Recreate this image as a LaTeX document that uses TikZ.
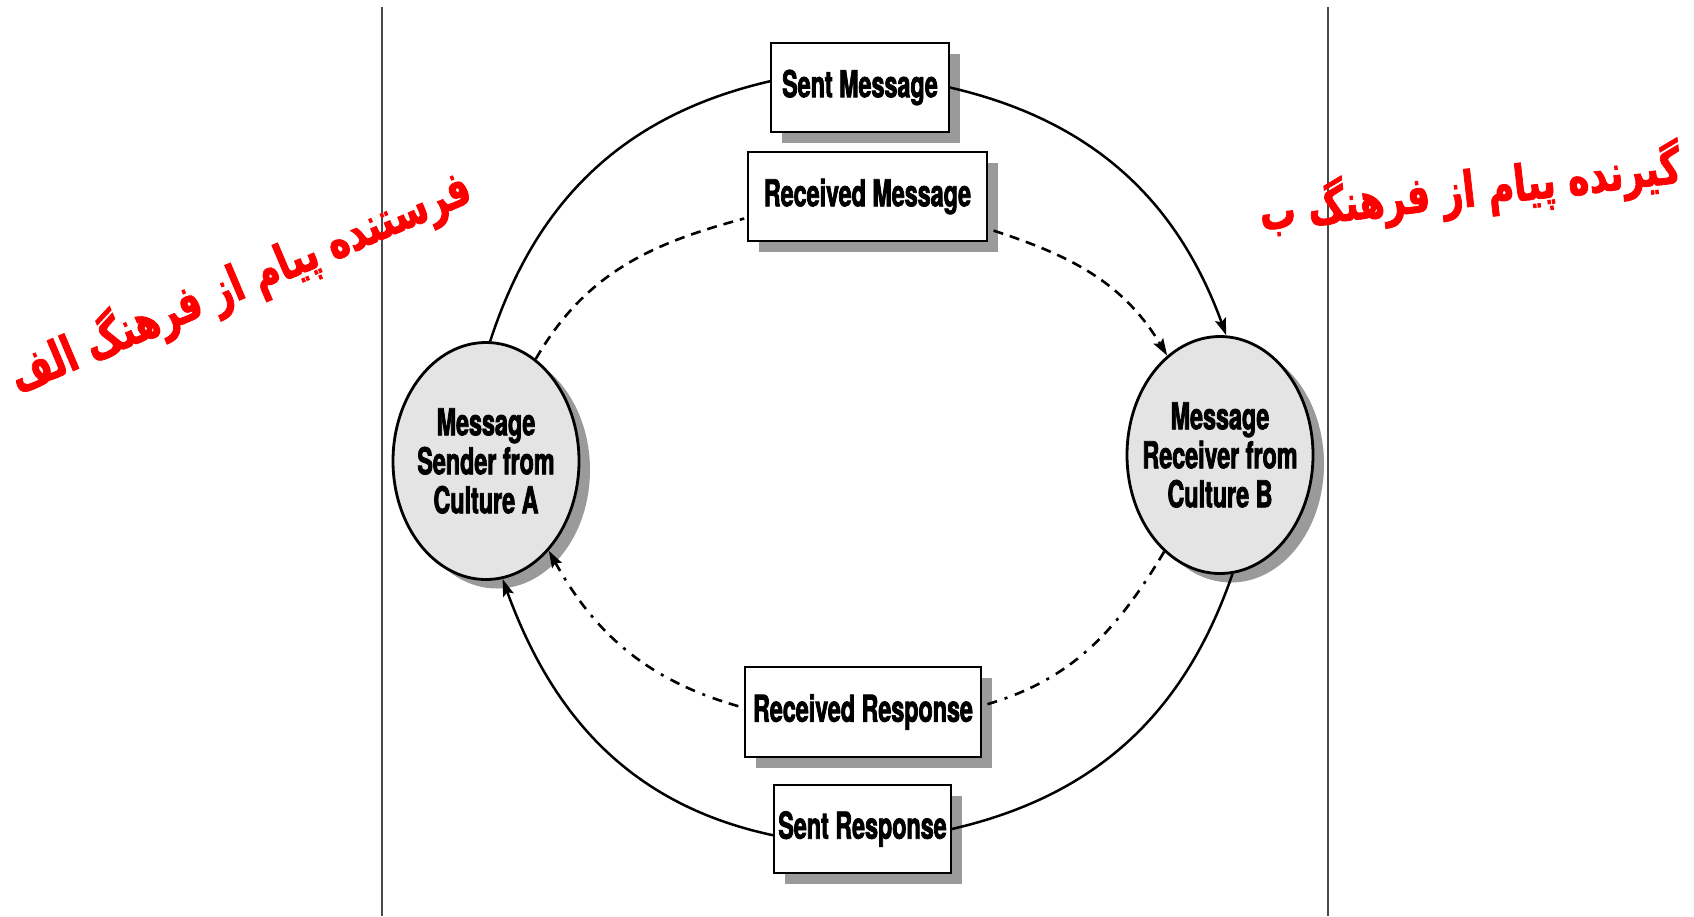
\documentclass[tikz,border=0pt]{standalone}
\usepackage{fontspec}
\usetikzlibrary{shapes.geometric,shadows,arrows.meta}
\TeXXeTstate=1
\newfontfamily\labelfont[FakeStretch=0.63,BoldFeatures={FakeBold=2}]{TeX Gyre Heros}
\newfontfamily\persianfont[Script=Arabic,FakeStretch=0.72,BoldFeatures={FakeBold=1.5}]{DejaVu Sans}
\definecolor{shadowgray}{HTML}{9A9A9A}
\definecolor{discfill}{HTML}{E4E4E4}
\definecolor{rulegray}{HTML}{4A4A4A}

\begin{document}
\begin{tikzpicture}[x=1pt,y=-1pt,
  labeltext/.style={font=\labelfont\bfseries\fontsize{37}{39}\selectfont, align=center, inner sep=0pt},
  msgbox/.style={labeltext, draw=black, line width=1.8pt, fill=white,
    drop shadow={shadow xshift=11pt, shadow yshift=-11pt, fill=shadowgray, opacity=1}},
  party/.style={ellipse, draw=black, line width=2.8pt, fill=discfill,
    minimum width=186pt, minimum height=237pt, inner sep=0pt,
    drop shadow={shadow xshift=11pt, shadow yshift=-9pt, fill=shadowgray, opacity=1}},
  flow/.style={line width=2.5pt},
  dashflow/.style={line width=2.6pt, dash pattern=on 10pt off 7pt},
  dashdotflow/.style={line width=2.6pt, dash pattern=on 10pt off 7pt on 10pt off 8pt on 3pt off 8pt},
  tip/.style={-{Stealth[length=17pt,width=11pt,inset=3pt]}},
  rule/.style={line width=2pt, draw=rulegray},
  persian/.style={text=red, font=\persianfont\bfseries\fontsize{50}{56}\selectfont, inner sep=0pt}
]
\useasboundingbox[fill=white] (0,0) rectangle (1694,916);

% dividing rules
\draw[rule] (382,7) -- (382,916);
\draw[rule] (1328,7) -- (1328,916);

% the two communicating parties
\node[party] (lsend) at (486,461) {};
\node[labeltext] (lsendtxt) at (lsend) {Message\\Sender from\\Culture A};
\node[party] (rrecv) at (1220,455) {};
\node[labeltext] (rrecvtxt) at (rrecv) {Message\\Receiver from\\Culture B};

% message stages
\node[msgbox, minimum width=178pt, minimum height=89pt] (sentmsg) at (860,87.5) {Sent Message};
\node[msgbox, minimum width=239pt, minimum height=89pt] (recvmsg) at (867.5,196.5) {Received Message};
\node[msgbox, minimum width=236pt, minimum height=90pt] (recvresp) at (863,712) {Received Response};
\node[msgbox, minimum width=177pt, minimum height=88pt] (sentresp) at (862.5,829) {Sent Response};

% outer loop: what is sent
\draw[flow] (lsend.88) to[out=72,in=193] (sentmsg.176);
\draw[flow,tip] (sentmsg.east) to[out=-13,in=110] (rrecv.87);
\draw[flow] (rrecv.-84) to[out=-109,in=13] (sentresp.east);
\draw[flow,tip] (sentresp.184) to[out=168,in=-70] (lsend.-82);

% inner loop: what is received
\draw[dashflow,shorten >=3pt] (lsend.64) to[out=60,in=195] (recvmsg.190);
\draw[dashflow,tip,shorten <=6pt] (recvmsg.-15) to[out=-18,in=121] (rrecv.118);
\draw[dashdotflow,shorten >=3pt] (rrecv.-120) to[out=-121,in=16] (recvresp.3);
\draw[dashdotflow,tip,shorten <=6pt] (recvresp.178) to[out=164,in=-61] (lsend.-55);

% side captions
\node[persian, rotate=23] (senderlabel) at (240,282) {\beginR فرستنده پیام از فرهنگ الف\endR};
\node[persian, rotate=6.5] (receiverlabel) at (1470,190) {\beginR گیرنده پیام از فرهنگ ب\endR};
\end{tikzpicture}
\end{document}
